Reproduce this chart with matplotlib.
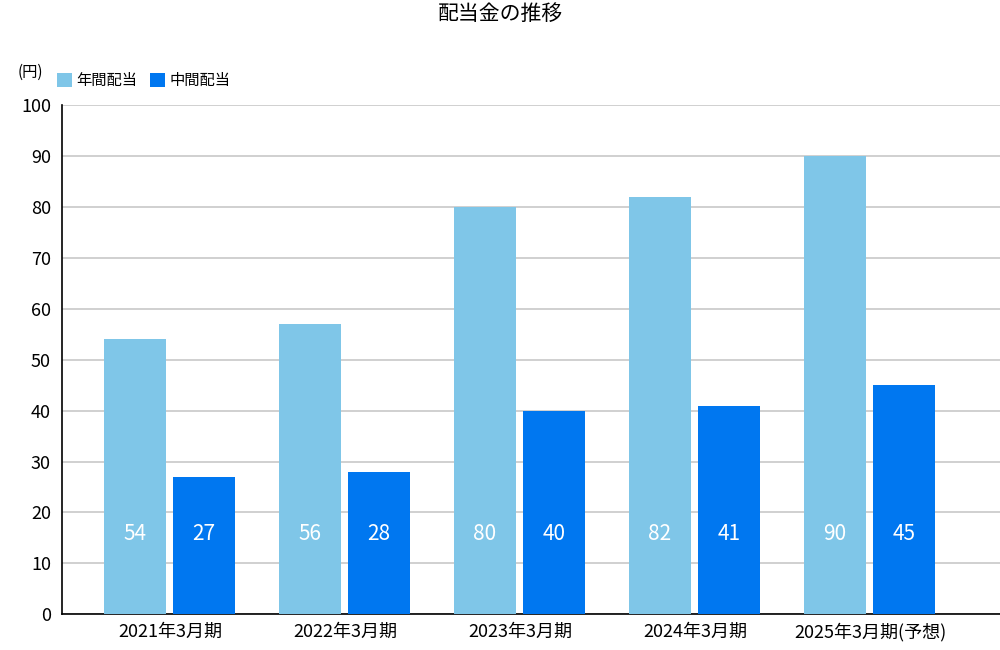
import matplotlib
matplotlib.use('Agg')
import matplotlib.pyplot as plt
import numpy as np

plt.rcParams['font.family'] = 'Noto Sans CJK JP'

categories = ['2021年3月期', '2022年3月期', '2023年3月期', '2024年3月期', '2025年3月期(予想)']
annual = [54, 57, 80, 82, 90]
annual_labels = ['54', '56', '80', '82', '90']
interim = [27, 28, 40, 41, 45]
interim_labels = ['27', '28', '40', '41', '45']

c_light = '#7fc6e8'
c_dark = '#0077f0'

fig = plt.figure(figsize=(10, 6.5), dpi=100)
ax = fig.add_axes([0.062, 0.055, 0.938, 0.783])

x = np.arange(len(categories))
w = 0.354
ax.bar(x - 0.2, annual, w, color=c_light, zorder=3, label='年間配当')
ax.bar(x + 0.194, interim, w, color=c_dark, zorder=3, label='中間配当')
for xi, t in zip(x, annual_labels):
    ax.text(xi - 0.2, 15.7, t, ha='center', va='center', color='white', fontsize=15, zorder=4)
for xi, t in zip(x, interim_labels):
    ax.text(xi + 0.194, 15.7, t, ha='center', va='center', color='white', fontsize=15, zorder=4)

ax.set_xlim(-0.617, 4.743)
ax.set_ylim(0, 100)
ax.set_yticks(range(0, 101, 10))
ax.set_xticks(x)
ax.set_xticklabels(categories)
ax.tick_params(axis='both', length=0, labelsize=13, pad=6)
ax.tick_params(axis='y', pad=8)
ax.yaxis.grid(True, color='#c8c8c8', linewidth=1.2, zorder=0)
for s in ['top', 'right']:
    ax.spines[s].set_visible(False)
for s in ['left', 'bottom']:
    ax.spines[s].set_color('black')
    ax.spines[s].set_linewidth(1.2)

fig.text(0.5, 0.978, '配当金の推移', ha='center', va='center', fontsize=15)
fig.text(0.018, 0.889, '(円)', ha='left', va='center', fontsize=11)
ax.legend(loc='lower left', bbox_to_anchor=(-0.012, 1.02), ncol=2, frameon=False,
          fontsize=11, handlelength=1.0, handleheight=1.0, handletextpad=0.3,
          columnspacing=0.8, borderaxespad=0)

fig.savefig('out.png', dpi=100)
